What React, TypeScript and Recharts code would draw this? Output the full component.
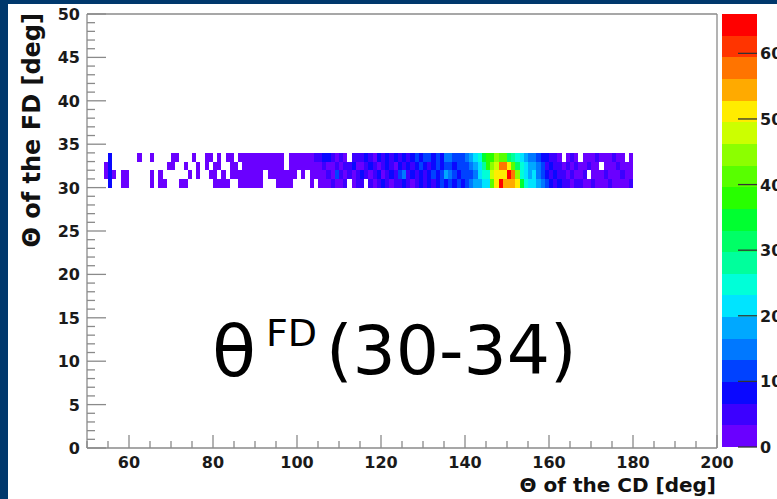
import { ScatterChart, Scatter, XAxis, YAxis, ReferenceArea, ReferenceLine } from 'recharts';

// Θ of the CD bins: 1 deg wide, starting at 54 deg
const cdFirstBin = 54;
// Θ of the FD bins (lower edges), 1 deg wide
const fdRows = [30, 31, 32, 33];

// counts per CD bin (54 ... 179) for each FD row
const countsFD30 = [
  0, 8, 0, 0, 2, 2, 0, 0, 0, 0,
  0, 1, 0, 2, 2, 0, 0, 0, 1, 1,
  0, 0, 0, 0, 0, 0, 2, 2, 2, 2,
  0, 0, 2, 2, 2, 2, 2, 2, 0, 0,
  0, 2, 2, 2, 2, 0, 0, 0, 0, 2,
  0, 2, 2, 2, 5, 2, 2, 5, 0, 2,
  5, 5, 0, 5, 2, 5, 8, 5, 2, 5,
  5, 8, 5, 2, 5, 8, 5, 8, 5, 8,
  11, 8, 11, 8, 11, 8, 12, 15, 18, 18,
  21, 21, 41, 50, 64, 53, 55, 55, 51, 35,
  24, 22, 22, 18, 15, 11, 8, 5, 8, 5,
  5, 2, 5, 5, 2, 2, 5, 2, 2, 2,
  5, 2, 2, 2, 2, 5,
];
const countsFD31 = [
  1, 8, 2, 0, 2, 2, 0, 0, 0, 0,
  0, 2, 0, 2, 0, 0, 0, 0, 0, 0,
  2, 0, 1, 0, 0, 2, 2, 0, 2, 0,
  2, 2, 2, 2, 2, 2, 3, 2, 0, 2,
  2, 2, 2, 2, 2, 2, 0, 2, 0, 2,
  2, 2, 2, 5, 2, 11, 5, 2, 5, 2,
  5, 8, 5, 2, 5, 8, 2, 5, 8, 5,
  11, 15, 5, 8, 5, 8, 5, 8, 11, 8,
  11, 18, 15, 11, 8, 11, 11, 12, 15, 21,
  25, 25, 48, 50, 51, 50, 64, 57, 45, 25,
  22, 18, 21, 15, 11, 8, 5, 8, 5, 5,
  2, 5, 2, 2, 5, 0, 2, 2, 2, 5,
  2, 2, 2, 5, 2, 2,
];
const countsFD32 = [
  2, 8, 0, 0, 0, 0, 0, 0, 0, 0,
  0, 0, 0, 0, 0, 2, 2, 0, 0, 2,
  0, 0, 2, 0, 2, 0, 2, 2, 0, 0,
  2, 2, 0, 2, 2, 2, 2, 2, 2, 2,
  2, 2, 2, 0, 2, 2, 2, 2, 2, 2,
  2, 3, 5, 2, 2, 5, 2, 5, 5, 8,
  2, 2, 5, 8, 5, 2, 5, 8, 5, 2,
  8, 5, 8, 5, 8, 11, 8, 5, 8, 11,
  8, 12, 11, 8, 12, 11, 12, 15, 18, 21,
  28, 38, 45, 47, 57, 58, 50, 40, 30, 25,
  21, 18, 18, 15, 12, 5, 8, 5, 5, 2,
  5, 2, 5, 2, 2, 5, 2, 2, 0, 2,
  2, 2, 5, 2, 2, 2,
];
const countsFD33 = [
  0, 8, 0, 0, 0, 0, 0, 0, 2, 0,
  0, 2, 0, 0, 0, 0, 2, 2, 0, 0,
  0, 2, 0, 0, 2, 2, 0, 2, 0, 2,
  2, 0, 2, 2, 2, 2, 2, 2, 2, 2,
  2, 2, 2, 0, 2, 2, 2, 2, 2, 3,
  5, 5, 8, 8, 5, 2, 5, 2, 0, 5,
  5, 5, 8, 5, 2, 8, 5, 8, 5, 8,
  5, 8, 5, 8, 11, 8, 12, 11, 8, 11,
  8, 15, 15, 11, 11, 12, 15, 18, 21, 25,
  35, 38, 38, 44, 41, 41, 31, 28, 25, 21,
  18, 15, 15, 12, 8, 8, 5, 5, 2, 0,
  2, 5, 2, 0, 2, 2, 2, 5, 2, 2,
  2, 5, 2, 2, 0, 2,
];
const countRows = [countsFD30, countsFD31, countsFD32, countsFD33];

// colour contours of the z axis (20 levels)
const zLevels = [0, 3.3, 6.6, 9.9, 13.2, 16.5, 19.8, 23.1, 26.4, 29.7, 33, 36.3, 39.6, 42.9, 46.2, 49.5, 52.8, 56.1, 59.4, 62.7, 66];
const palette = [
  '#6a00ff', '#3c00ff', '#0a08ff', '#0042ff', '#0078ff',
  '#00a8ff', '#00e4ff', '#00ffd8', '#00ff9c', '#00ff66',
  '#00ff30', '#28ff00', '#58ff00', '#8cff00', '#ccff00',
  '#ffec00', '#ffaa00', '#ff7400', '#ff3400', '#ff0000',
];
const zTicks = [0, 10, 20, 30, 40, 50, 60];

const xTicks = Array.from({ length: 31 }, (_, i) => 50 + i * 5);
const yTicks = Array.from({ length: 51 }, (_, i) => i);

const axisGrey = '#8a8a8a';
const labelFont = 'DejaVu Sans, Verdana, sans-serif';

function colorOf(v: number) {
  for (let i = 0; i < palette.length; i++) {
    if (v >= zLevels[i] && v < zLevels[i + 1]) return palette[i];
  }
  return palette[palette.length - 1];
}

const cells: { x: number; y: number; z: number; x1: number; x2: number; y1: number; y2: number; fill: string }[] = [];
countRows.forEach((row, r) => {
  row.forEach((v, i) => {
    if (v <= 0) return;
    cells.push({
      x: cdFirstBin + i + 0.5,
      y: fdRows[r] + 0.5,
      z: v,
      x1: cdFirstBin + i,
      x2: cdFirstBin + i + 1,
      y1: fdRows[r],
      y2: fdRows[r] + 1,
      fill: colorOf(v),
    });
  });
});

const barAnchor = zLevels.map((z) => ({ x: 0.5, y: z }));

function XTick(props: any) {
  const { x, y, payload } = props;
  const v = payload.value;
  const major = v % 20 === 0;
  return (
    <g>
      <line x1={x} x2={x} y1={y} y2={y - (major ? 13 : 7)} stroke={axisGrey} strokeWidth={1.3} />
      {major && v > 50 && (
        <text x={x} y={y + 20} textAnchor="middle" fontSize={16} fontWeight="bold" fontFamily={labelFont} fill="#1a1a1a">
          {v}
        </text>
      )}
    </g>
  );
}

function YTick(props: any) {
  const { x, y, payload } = props;
  const v = payload.value;
  const major = v % 5 === 0;
  return (
    <g>
      <line x1={x} x2={x + (major ? 19 : 8)} y1={y} y2={y} stroke={axisGrey} strokeWidth={1.3} />
      {major && (
        <text x={x - 7} y={y + 6} textAnchor="end" fontSize={16} fontWeight="bold" fontFamily={labelFont} fill="#1a1a1a">
          {v}
        </text>
      )}
    </g>
  );
}

function ZTick(props: any) {
  const { x, y, payload } = props;
  return (
    <g>
      <line x1={x - 19} x2={x} y1={y} y2={y} stroke="#333" strokeWidth={1.3} />
      <text x={x + 3} y={y + 6} textAnchor="start" fontSize={16} fontWeight="bold" fontFamily={labelFont} fill="#1a1a1a">
        {payload.value}
      </text>
    </g>
  );
}

const noShape = () => <g />;

export default function App() {
  return (
    <div style={{ position: 'absolute', left: 0, top: 0, width: 777, height: 499, background: '#00386c', overflow: 'hidden' }}>
      <div style={{ position: 'absolute', left: 8, top: 4, right: 0, bottom: 0, background: '#ffffff' }} />

      <div style={{ position: 'absolute', left: 0, top: 0 }}>
        <ScatterChart width={777} height={499} margin={{ top: 14, right: 60, bottom: 21, left: 47 }}>
          <XAxis
            type="number"
            dataKey="x"
            domain={[50, 200]}
            ticks={xTicks}
            interval={0}
            height={30}
            tickSize={0}
            tickMargin={0}
            tickLine={false}
            axisLine={{ stroke: axisGrey, strokeWidth: 1.3 }}
            tick={(p: any) => <XTick {...p} />}
          />
          <YAxis
            type="number"
            dataKey="y"
            domain={[0, 50]}
            ticks={yTicks}
            interval={0}
            width={40}
            tickSize={0}
            tickMargin={0}
            tickLine={false}
            axisLine={{ stroke: axisGrey, strokeWidth: 1.3 }}
            tick={(p: any) => <YTick {...p} />}
          />
          <Scatter data={cells} dataKey="y" isAnimationActive={false} shape={noShape} />
          {cells.map((c, i) => (
            <ReferenceArea
              key={i}
              x1={c.x1}
              x2={c.x2}
              y1={c.y1}
              y2={c.y2}
              fill={c.fill}
              fillOpacity={1}
              stroke="none"
              shapeRendering="crispEdges"
            />
          ))}
          <ReferenceLine y={50} stroke={axisGrey} strokeWidth={1.3} />
          <ReferenceLine x={200} stroke={axisGrey} strokeWidth={1.3} />
        </ScatterChart>
      </div>

      <div style={{ position: 'absolute', left: 700, top: 0 }}>
        <ScatterChart width={77} height={499} margin={{ top: 14, right: 0, bottom: 52, left: 22 }}>
          <XAxis type="number" dataKey="x" domain={[0, 1]} hide />
          <YAxis
            type="number"
            dataKey="y"
            orientation="right"
            domain={[0, 66]}
            ticks={zTicks}
            interval={0}
            width={20}
            tickSize={0}
            tickMargin={0}
            tickLine={false}
            axisLine={false}
            tick={(p: any) => <ZTick {...p} />}
          />
          <Scatter data={barAnchor} dataKey="y" isAnimationActive={false} shape={noShape} />
          {palette.map((c, i) => (
            <ReferenceArea
              key={c}
              x1={0}
              x2={1}
              y1={zLevels[i]}
              y2={zLevels[i + 1]}
              fill={c}
              fillOpacity={1}
              stroke="none"
              shapeRendering="crispEdges"
            />
          ))}
        </ScatterChart>
      </div>

      <svg width={777} height={499} style={{ position: 'absolute', left: 0, top: 0, pointerEvents: 'none' }}>
        <text x={716} y={492} textAnchor="end" fontSize={20} fontWeight="bold" fontFamily={labelFont} fill="#111">
          Θ of the CD [deg]
        </text>
        <text transform="translate(40,13) rotate(-90)" textAnchor="end" fontSize={24} fontWeight="bold" fontFamily={labelFont} fill="#111">
          Θ of the FD [deg]
        </text>
        <text x={212} y={376} fontSize={72} fontFamily={labelFont} fill="#000">θ</text>
        <text x={266} y={346} fontSize={38} fontFamily={labelFont} fill="#000">FD</text>
        <text x={326} y={374} fontSize={68} fontFamily={labelFont} fill="#000">(30-34)</text>
      </svg>
    </div>
  );
}
